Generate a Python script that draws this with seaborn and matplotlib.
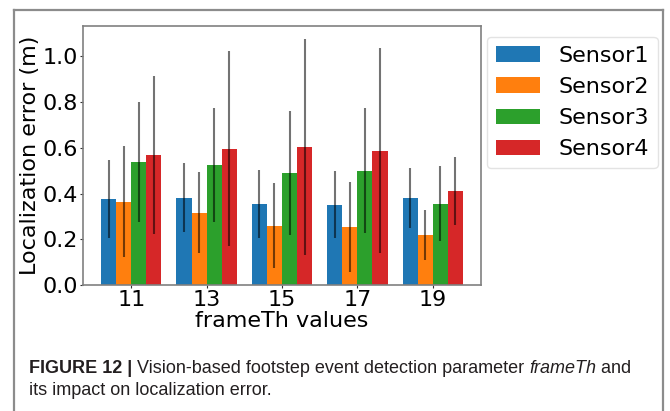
import matplotlib
matplotlib.use("Agg")
import matplotlib.pyplot as plt
import seaborn as sns
import pandas as pd
import numpy as np
from matplotlib.lines import Line2D

frame_th = ["11", "13", "15", "17", "19"]
sensors = ["Sensor1", "Sensor2", "Sensor3", "Sensor4"]
sensor1 = [0.377, 0.382, 0.355, 0.351, 0.382]
sensor2 = [0.364, 0.316, 0.259, 0.254, 0.219]
sensor3 = [0.539, 0.526, 0.491, 0.500, 0.355]
sensor4 = [0.570, 0.596, 0.605, 0.588, 0.412]
sensor1_err = [0.171, 0.152, 0.149, 0.146, 0.132]
sensor2_err = [0.243, 0.177, 0.186, 0.198, 0.110]
sensor3_err = [0.262, 0.249, 0.272, 0.274, 0.164]
sensor4_err = [0.345, 0.426, 0.472, 0.449, 0.149]

means = [sensor1, sensor2, sensor3, sensor4]
errs = [sensor1_err, sensor2_err, sensor3_err, sensor4_err]
colors = ["#1f77b4", "#ff7f0e", "#2ca02c", "#d62728"]

rows = []
for s, vals in zip(sensors, means):
    for f, v in zip(frame_th, vals):
        rows.append({"frameTh": f, "sensor": s, "err": v})
df = pd.DataFrame(rows)

fig = plt.figure(figsize=(6.7, 4.11), dpi=100)
ax = fig.add_axes([83/670, 1-285/411, 398/670, 259/411])

sns.barplot(data=df, x="frameTh", y="err", hue="sensor", order=frame_th,
            hue_order=sensors, palette=colors, saturation=1, errorbar=None,
            width=0.8, ax=ax, linewidth=0)

for cont, e in zip(ax.containers, errs):
    xs = [p.get_x() + p.get_width()/2 for p in cont.patches]
    ys = [p.get_height() for p in cont.patches]
    ax.errorbar(xs, ys, yerr=e, fmt="none", ecolor="black", alpha=0.55,
                elinewidth=1.5, capsize=0, zorder=3)

ax.set_xlim(-0.64, 4.64)
ax.set_ylim(0, 1.133)
ax.set_yticks([0.0, 0.2, 0.4, 0.6, 0.8, 1.0])
ax.set_yticklabels(["0.0", "0.2", "0.4", "0.6", "0.8", "1.0"])
ax.tick_params(labelsize=16, length=2, pad=1.5, color="#333333")
ax.set_xlabel("frameTh values", fontsize=16, labelpad=1)
ax.set_ylabel("Localization error (m)", fontsize=16, labelpad=2)
for sp in ax.spines.values():
    sp.set_color("#808080")
    sp.set_linewidth(1.2)

leg = ax.legend(loc="upper left", bbox_to_anchor=(487/670, 1-37/411),
                bbox_transform=fig.transFigure, borderaxespad=0,
                fontsize=16, frameon=True, title=None)
leg.get_frame().set_edgecolor("#dddddd")

# outer figure frame
border = "#8c8c8c"
fig.add_artist(Line2D([14/670, 663/670], [1-10/411, 1-10/411], transform=fig.transFigure, color=border, lw=1.6))
fig.add_artist(Line2D([14/670, 14/670], [1-10/411, 0], transform=fig.transFigure, color=border, lw=1.6))
fig.add_artist(Line2D([663/670, 663/670], [1-10/411, 0], transform=fig.transFigure, color=border, lw=1.6))

cap_font = ["Liberation Sans", "DejaVu Sans"]
cap_size = 13
cap_color = "#231f20"
t1 = fig.text(29/670, 1-373/411, "FIGURE 12 | ", fontsize=cap_size, fontweight="bold",
              family=cap_font, color=cap_color, va="baseline")
fig.canvas.draw()
r = fig.canvas.get_renderer()
x = t1.get_window_extent(r).x1
t2 = fig.text(x/670, 1-373/411, "Vision-based footstep event detection parameter ", fontsize=cap_size,
              family=cap_font, color=cap_color, va="baseline")
x = t2.get_window_extent(r).x1
t3 = fig.text(x/670, 1-373/411, "frameTh", fontsize=cap_size, style="italic",
              family=cap_font, color=cap_color, va="baseline")
x = t3.get_window_extent(r).x1
fig.text(x/670, 1-373/411, " and", fontsize=cap_size,
         family=cap_font, color=cap_color, va="baseline")
fig.text(29/670, 1-395/411, "its impact on localization error.", fontsize=cap_size,
         family=cap_font, color=cap_color, va="baseline")

fig.savefig("out.png", dpi=100)
